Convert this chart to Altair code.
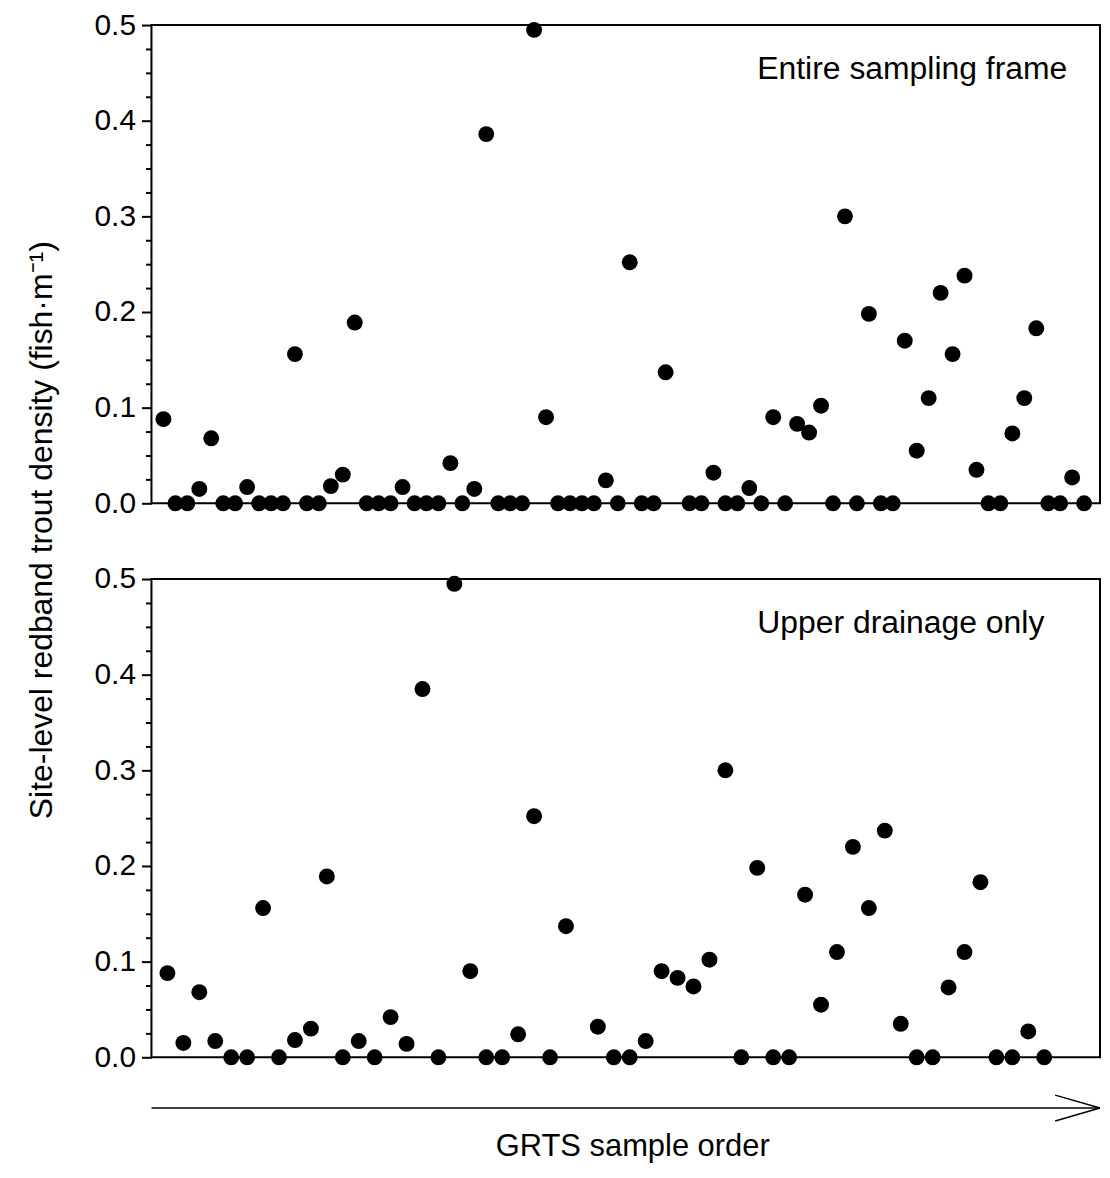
import altair as alt
import pandas as pd

# GRTS sample order (position along the x axis); None = site with no value
top_order = list(range(1, 79))
top_density = [
    0.088, 0, 0, 0.015, 0.068, 0, 0, 0.017, 0, 0,
    0, 0.156, 0, 0, 0.018, 0.030, 0.189, 0, 0, 0,
    0.017, 0, 0, 0, 0.042, 0, 0.015, 0.386, 0, 0,
    0, 0.495, 0.090, 0, 0, 0, 0, 0.024, 0, 0.252,
    0, 0, 0.137, None, 0, 0, 0.032, 0, 0, 0.016,
    0, 0.090, 0, 0.083, 0.074, 0.102, 0, 0.300, 0, 0.198,
    0, 0, 0.170, 0.055, 0.110, 0.220, 0.156, 0.238, 0.035, 0,
    0, 0.073, 0.110, 0.183, 0, 0, 0.027, 0,
]

bottom_order = list(range(1, 57))
bottom_density = [
    0.088, 0.015, 0.068, 0.017, 0, 0, 0.156, 0, 0.018, 0.030,
    0.189, 0, 0.017, 0, 0.042, 0.014, 0.385, 0, 0.495, 0.090,
    0, 0, 0.024, 0.252, 0, 0.137, None, 0.032, 0, 0,
    0.017, 0.090, 0.083, 0.074, 0.102, 0.300, 0, 0.198, 0, 0,
    0.170, 0.055, 0.110, 0.220, 0.156, 0.237, 0.035, 0, 0, 0.073,
    0.110, 0.183, 0, 0, 0.027, 0,
]

major_ticks = [0.0, 0.1, 0.2, 0.3, 0.4, 0.5]
minor_ticks = [0.025, 0.05, 0.075, 0.125, 0.15, 0.175, 0.225, 0.25, 0.275,
               0.325, 0.35, 0.375, 0.425, 0.45, 0.475]

top_label = "Entire sampling frame"
bottom_label = "Upper drainage only"
y_title = "Site-level redband trout density (fish\u00b7m\u207b\u00b9)"
x_title = "GRTS sample order"

FONT = "Liberation Sans, Arial, sans-serif"
W, H = 952, 480


def panel(order, dens, xmax, label, extras):
    df = pd.DataFrame({"order": order, "density": dens}).dropna()
    xs = alt.Scale(domain=[0, xmax], nice=False, zero=False)
    ys = alt.Scale(domain=[0, 0.5], nice=False)
    pts = alt.Chart(df).mark_circle(size=255, color="black", opacity=1).encode(
        x=alt.X("order:Q", scale=xs, axis=None),
        y=alt.Y("density:Q", scale=ys,
                axis=alt.Axis(orient="left", values=major_ticks, format=".1f",
                              tickSize=10, tickWidth=2, tickColor="black",
                              labelFontSize=30, labelFont=FONT, labelColor="black",
                              labelPadding=6, title=None, grid=False, domain=False)),
    )
    minor = alt.Chart(df).mark_circle(opacity=0).encode(
        x=alt.X("order:Q", scale=xs, axis=None),
        y=alt.Y("density:Q", scale=ys,
                axis=alt.Axis(orient="left", values=minor_ticks, labels=False,
                              tickSize=6, tickWidth=2, tickColor="black",
                              title=None, grid=False, domain=False)),
    )
    txt = alt.Chart(pd.DataFrame({"t": [label]})).mark_text(
        align="left", baseline="middle", fontSize=32, font=FONT, color="black"
    ).encode(text="t:N", x=alt.value(608), y=alt.value(44))
    return (
        alt.layer(pts, minor, txt, *extras)
        .resolve_axis(y="independent")
        .properties(width=W, height=H)
    )


one = pd.DataFrame({"a": [0]})

ytitle_mark = alt.Chart(pd.DataFrame({"t": [y_title]})).mark_text(
    angle=270, align="center", baseline="middle", fontSize=32, font=FONT, color="black"
).encode(text="t:N", x=alt.value(-110), y=alt.value(507))

arrow_line = alt.Chart(one).mark_rule(color="black", strokeWidth=1.5).encode(
    x=alt.value(0), x2=alt.value(W), y=alt.value(531)
)
arrow_up = alt.Chart(one).mark_rule(color="black", strokeWidth=1.5).encode(
    x=alt.value(W - 45), y=alt.value(518), x2=alt.value(W), y2=alt.value(531)
)
arrow_dn = alt.Chart(one).mark_rule(color="black", strokeWidth=1.5).encode(
    x=alt.value(W - 45), y=alt.value(544), x2=alt.value(W), y2=alt.value(531)
)
xtitle_mark = alt.Chart(pd.DataFrame({"t": [x_title]})).mark_text(
    align="center", baseline="middle", fontSize=31,
    font="Liberation Sans Narrow, Arial Narrow, Liberation Sans, sans-serif", color="black"
).encode(text="t:N", x=alt.value(483), y=alt.value(570))

top = panel(top_order, top_density, 79.33, top_label, [ytitle_mark])
bottom = panel(bottom_order, bottom_density, 59.5, bottom_label,
               [arrow_line, arrow_up, arrow_dn, xtitle_mark])

chart = (
    alt.vconcat(top, bottom, spacing=76, bounds="flush")
    .properties(padding={"left": 16, "top": -1, "right": 0, "bottom": 0})
    .configure_view(stroke="black", strokeWidth=2)
)

chart.save("out.html", embed_options={"renderer": "svg", "actions": False})
